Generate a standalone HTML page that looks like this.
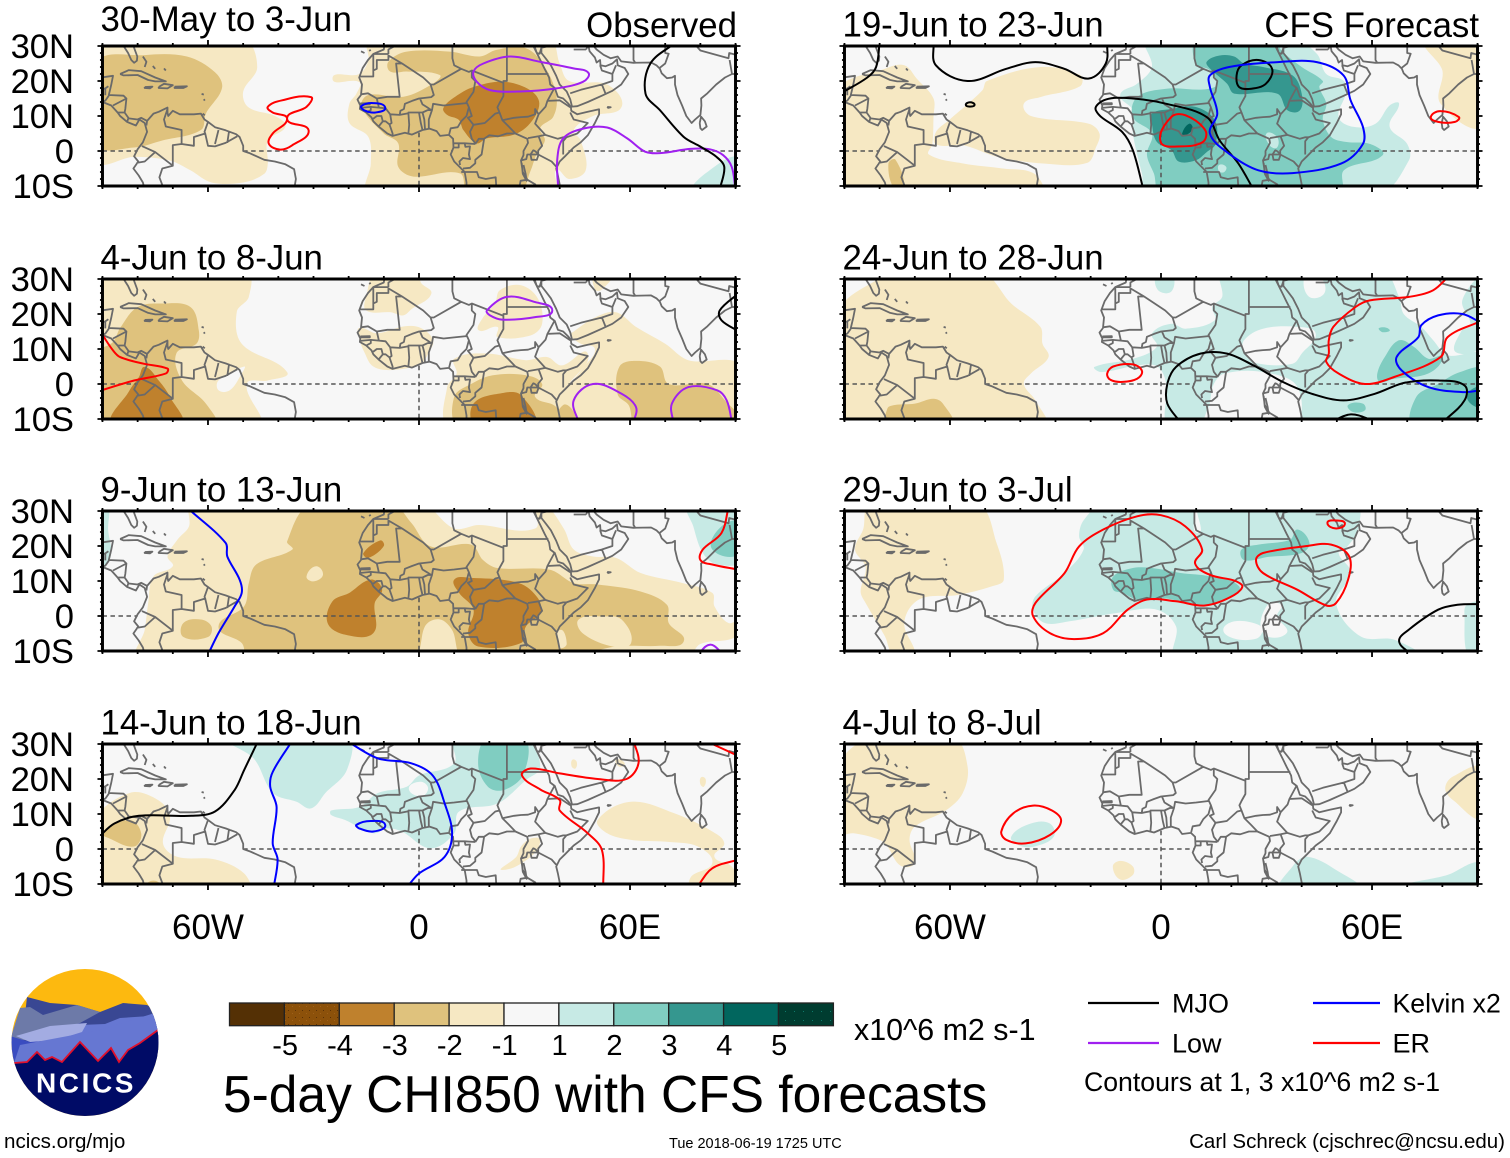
<!DOCTYPE html>
<html lang="en">
<head>
<meta charset="utf-8">
<title>5-day CHI850 with CFS forecasts</title>
<style>
html,body{margin:0;padding:0;background:#fff;}
svg{display:block;}
text{font-family:"Liberation Sans",Arial,sans-serif;fill:#000;}
</style>
</head>
<body>
<svg id="figure" xmlns="http://www.w3.org/2000/svg" width="1510" height="1158" viewBox="0 0 1510 1158">
  <defs>
    <clipPath id="logo-clip"><circle cx="85" cy="1042.5" r="73.5"/></clipPath>
    <pattern id="stipple-brown" width="7" height="7" patternUnits="userSpaceOnUse"><rect width="7" height="7" fill="#8c510a"/><rect x="1" y="2" width="1" height="1" fill="#5a3005"/><rect x="5" y="5" width="1" height="1" fill="#a06018"/></pattern>
    <pattern id="stipple-teal" width="9" height="9" patternUnits="userSpaceOnUse"><rect width="9" height="9" fill="#003c30"/><rect x="2" y="3" width="1" height="1" fill="#0f7a6a"/></pattern>
  </defs>
  <g id="panels"></g>

  <g id="logo">
    <g clip-path="url(#logo-clip)">
      <rect x="10" y="968" width="150" height="150" fill="#fdb90f"/>
      <polygon points="27,997 50,1003 77,1005 100,1012 123,1003 147,1005 165,1015 165,1060 20,1060" fill="#394793"/>
      <polygon points="20,1008 30,1007 43,1015 77,1005 100,1012 80,1023 30,1040 10,1040" fill="#6d7aa8"/>
      <polygon points="165,1015 165,1040 118,1062 78,1060 40,1075 10,1070 60,1040 80,1025 105,1024 120,1018" fill="#6677d2"/>
      <polygon points="16,1036 50,1026 87,1023 82,1032 50,1042 30,1042" fill="#a3ace2"/>
      <polygon points="10,1036 30,1042 56,1040 20,1060 10,1070" fill="#3a4cc0"/>
      <polygon points="5,1063 14,1063 27,1062 37,1052 45,1060 52,1057 62,1062 80,1042 98,1061 111,1048 119,1062 128,1050 140,1043 158,1030 170,1030 170,1125 5,1125" fill="#000b66"/>
      <polygon points="14,1063 27,1062 37,1052 45,1060 52,1057 62,1062 80,1042 98,1061 111,1048 119,1062 128,1050 140,1043 158,1030 158,1012 100,1030 20,1045" fill="#6677d2"/>
      <polyline points="14,1063 27,1062 37,1052 45,1060 52,1057 62,1062 80,1042 98,1061 111,1048 119,1062 128,1050 140,1043 158,1030" fill="none" stroke="#e0102c" stroke-width="1.8"/>
    </g>
    <text x="86" y="1092.5" text-anchor="middle" font-size="28" font-weight="700" letter-spacing="2.6" style="fill:#fff">NCICS</text>
  </g>

  <g id="colorbar"></g>
  <text x="854" y="1040" font-size="30.4">x10^6 m2 s-1</text>
  <text x="223" y="1112" font-size="51.5">5-day CHI850 with CFS forecasts</text>

  <g id="legend">
    <line x1="1088" x2="1159" y1="1003" y2="1003" stroke="#000" stroke-width="2.2"/>
    <text x="1172" y="1012.5" font-size="27">MJO</text>
    <line x1="1088" x2="1159" y1="1043" y2="1043" stroke="#a020f0" stroke-width="2.2"/>
    <text x="1172" y="1052.5" font-size="27">Low</text>
    <line x1="1313" x2="1380" y1="1003" y2="1003" stroke="#0000ff" stroke-width="2.2"/>
    <text x="1392.5" y="1012.5" font-size="26.7">Kelvin x2</text>
    <line x1="1313" x2="1380" y1="1043" y2="1043" stroke="#ff0000" stroke-width="2.2"/>
    <text x="1392.5" y="1052.5" font-size="27">ER</text>
    <text x="1084" y="1091" font-size="26.65">Contours at 1, 3 x10^6 m2 s-1</text>
  </g>

  <text x="4" y="1148" font-size="20.6">ncics.org/mjo</text>
  <text x="669" y="1148" font-size="14.5">Tue 2018-06-19 1725 UTC</text>
  <text x="1505" y="1148" font-size="20.5" text-anchor="end">Carl Schreck (cjschrec@ncsu.edu)</text>
</svg>

<script>
/* ---------- labels ---------- */
const panelTitles = ["30-May to 3-Jun","4-Jun to 8-Jun","9-Jun to 13-Jun","14-Jun to 18-Jun","19-Jun to 23-Jun","24-Jun to 28-Jun","29-Jun to 3-Jul","4-Jul to 8-Jul"];
const lonMajorTicks = [-60,0,60];
const lonTickLabels = ["60W","0","60E"];
const latMajorTicks = [30,20,10,0,-10];
const latTickLabels = ["30N","20N","10N","0","10S"];
const colorbarLabels = ["-5","-4","-3","-2","-1","1","2","3","4","5"];

/* ---------- geography (lon, lat) ---------- */
const coastlines = [
 [[-92,29.5],[-89,30],[-84,30],[-82.7,28],[-81.8,26],[-81,25.2],[-80.2,25.8],[-80.1,27],[-81,29.5],[-81.4,31]],
 [[-92,21],[-90.3,21],[-87,21.5],[-87.5,19],[-88.2,16],[-84,15.8],[-83.2,15],[-83.5,12],[-83.7,11],[-82.5,9.3],[-80,9],[-79,9.5],[-77.3,8.6],[-75.5,10.7],[-74,11.2],[-71.5,12.4],[-71.5,11],[-71.3,10],[-70,11.5],[-68,10.5],[-64,10.5],[-62,10.7],[-61,9],[-60,8.3],[-58,6.8],[-55,5.9],[-52,4.8],[-51,4],[-50,1.5],[-50,0],[-48,-0.7],[-44,-2.5],[-41,-3],[-38,-3.8],[-35.5,-5.2],[-35,-8],[-35.5,-11]],
 [[-92,14.5],[-90,14],[-87.5,13],[-85.7,11],[-85,10],[-83,8.3],[-80.5,7.3],[-79.5,9],[-78,8],[-77.3,5.5],[-78.5,2.5],[-80,0.5],[-81,-1.5],[-79.8,-3],[-81.2,-5],[-79.7,-7],[-78.5,-9],[-78,-11]],
 [[-85,22],[-82.5,23.1],[-79,22.8],[-75,21],[-72,19.9],[-75,19.9],[-77,20.3],[-80,21.7],[-84,21.6],[-85,22]],
 [[-74,18.3],[-72.5,19.2],[-70,18.8],[-71.5,17.9],[-74,18],[-74,18.3]],
 [[-78,18.3],[-75.8,18.4],[-76.5,17.9],[-78,18],[-78,18.3]],
 [[-69.5,18.4],[-66,18.5],[-67,18],[-69.5,18],[-69.5,18.4]],
 [[-78.5,27],[-77.5,25.5],[-78,24]],[[-75.7,24.3],[-75,23.5]],[[-72.5,23.6],[-72,23]],
 [[-61.8,16.3],[-61.2,16.1]],[[-61.2,14.8],[-60.9,14.4]],[[-61.5,10.7],[-60.9,10.2]],
 [[-16.5,28.5],[-15.5,28]],[[-14.2,28.6],[-13.7,28.9]],
 [[-9.7,31],[-10,29],[-13,27.7],[-14.5,26],[-16,23.7],[-17,21],[-16.2,19],[-16.5,16],[-17.5,14.7],[-16.7,13],[-16.8,12],[-15,11],[-13.5,9.6],[-13,8.5],[-11.5,7],[-9,5],[-7.5,4.3],[-4,5.2],[-2,4.7],[1,6],[3,6.4],[5,5.7],[6,4.3],[8.5,4.6],[9.7,3.5],[9.8,1],[9,-1],[10,-3],[12,-5],[13,-6],[13.5,-9],[13.5,-11]],
 [[40.3,-11],[39.5,-7],[39,-5],[40,-3],[41.5,-1.5],[44,1],[46,2.5],[48,4.5],[50,8],[51.2,10.5],[51.2,11.9],[48,11.2],[45,10.5],[43.3,11.5],[43.2,12.5],[42.5,13.5],[41,15],[39.5,15.5],[38.6,18],[37.3,19],[37,21],[35.7,23.5],[34.5,26],[33.5,28],[32.5,31]],
 [[32.5,30],[33.5,28],[34.3,27.8],[34.8,29.5],[34.8,28],[36,26.5],[37.5,24.5],[39,21.5],[40,19],[42,17],[43,14.8],[43.5,12.7],[45,12.8],[48,14],[52,15.8],[55,17.2],[57.5,19],[59.5,22],[58.5,23.7],[56.5,24.5],[56.3,26.2],[55,25],[53,24.2],[51.6,24.5],[51.5,26],[50.5,25.3],[50,26.7],[48.5,28.5],[48,31]],
 [[48.8,31],[50.5,29],[52.5,27.5],[54.5,26.5],[56.5,27],[57.5,25.6],[61,25.2],[66,25.3],[67.5,24.5],[68.5,23.5],[69,22.2],[70.5,20.8],[72,21],[72.8,21.5],[72.8,19],[73.5,16],[74.8,13],[76,10],[77.5,8],[78.5,9],[80,10.3],[80.3,13],[80.2,15],[82,16.5],[84.5,19],[87,21],[89,22],[92,22]],
 [[79.8,8],[80.2,9.8],[81.3,8.5],[81.8,7],[80.5,6],[80,6.5],[79.8,8]],
 [[53.5,12.6],[54.5,12.5],[53.8,12.3],[53.5,12.6]],
 [[33,0],[34,-1],[33.5,-2.5],[32,-2.5],[31.7,-1],[32.5,0.2],[33,0]],
 [[29.2,-3.5],[29.5,-6.5],[30.6,-8.5],[30.3,-6.5],[29.7,-4]]
];
const borders = [
 [[-71.5,12],[-72.5,9],[-72,7],[-67.5,6],[-67.5,2],[-70,1.7],[-70,-4.2],[-73,-5],[-73.8,-7.5],[-72.5,-11]],
 [[-67.5,2],[-64,1.5],[-64,4],[-60.8,5],[-61,5.5],[-60,8.3]],
 [[-60.8,5],[-60,1.5],[-58,1.3],[-55,2.3],[-51.7,4.2]],
 [[-57,6],[-58,2]],[[-54,5.8],[-54.5,2.3]],
 [[-70,-4.2],[-75,-0.3],[-78.8,1.4]],[[-75,-0.3],[-78,-3],[-80.3,-3.4]],
 [[-77.3,8.6],[-77.5,7.3]],[[-83.2,15],[-87,13]],[[-83.7,11],[-85.7,11]],[[-82.6,9.5],[-83,8.3]],
 [[-88.2,15.8],[-89.2,14.4],[-90,14]],[[-89.2,17.9],[-88.3,18.5]],[[-89.2,17.9],[-89.2,15.9]],[[-92,17.8],[-89.2,17.8]],
 [[-8.7,27.7],[-8.7,29],[-5,31]],[[-13,27.7],[-8.7,27.7]],[[-13,27.7],[-13,21.3],[-17,21.3]],
 [[-13,23],[-12,23.5],[-12,26],[-8.7,26],[-8.7,27.3],[-4.8,25],[-6.5,25],[-5.5,15.5],[-9,15.5],[-12,15],[-14.5,16.5],[-16.5,16.2]],
 [[-4.8,25],[1.2,21],[3.3,19],[4.2,19],[12,23.5],[14.2,22.6],[15,23],[24,19.5],[24,20],[25,20],[25,22],[25,31]],
 [[3.3,19],[4.2,16],[3.5,15.4],[0,15],[-2,14.3],[-4,13.5],[-4.3,12],[-5.3,11.5],[-5.5,10.3],[-8.2,10.5]],
 [[9.5,31],[9.5,26.5],[10,24.5],[12,23.5]],
 [[25,22],[36.8,22]],
 [[15,23],[15,21],[16,20],[15.5,16.9],[13.5,14],[14.2,12.5],[15,10],[13.9,9.5],[15.5,7.5],[18.7,8],[21.7,10.7],[22.9,11],[22.3,12.5],[22.9,13.7],[24,15.7],[24,19.5]],
 [[-16.7,13.6],[-14,13.7],[-14,13.3],[-16.7,13.3]],
 [[-16.8,12.3],[-13.7,12.6],[-13.7,11.7],[-15,11]],
 [[-13.7,12.6],[-11.4,12.4],[-12,15]],
 [[-11.4,12.4],[-9.5,12.2],[-8.2,10.5],[-7.8,8],[-8.4,7.6],[-9.5,8.5],[-10.3,8.5],[-11.5,7]],
 [[-13.3,9],[-12,10],[-10.7,10],[-10.3,8.5]],
 [[-8.4,7.6],[-7.5,5],[-7.5,4.3]],
 [[-3,10.8],[-2.8,7.5],[-3,5]],
 [[-5.5,10.3],[-3,10.8],[-3,11],[0,11],[1,11],[2.5,11.7],[3.5,11.7],[2.3,12.5],[1,13.3],[0.3,14.9]],
 [[0,11],[0.5,8],[1,6]],[[1,11],[1.5,9],[1.7,6.2]],[[2.8,6.3],[2.8,9],[3.7,11.7],[4,13.5],[7,13],[10,13.3],[13.5,13.7]],
 [[8.6,4.8],[9,6.5],[11,6.8],[12,8.5],[13.5,10],[14.2,12.5]],
 [[15.5,7.5],[14.5,5.5],[15,3.5],[16,2.2]],[[9.8,2.2],[11.3,2.2],[13,2.2],[16,2]],
 [[9.7,1],[11.3,1],[11.3,2.2]],[[13,2.2],[13.2,1.2],[14.5,1.3],[14.2,-1],[14.5,-2.3],[12.5,-2],[11.5,-3],[11.7,-4]],
 [[16,2],[17,3.5],[18.5,3.5],[17.8,-1],[16,-2.5],[16,-3.5],[14.5,-4.8],[12.5,-5]],
 [[18.5,3.5],[20,4.5],[22.5,4.2],[25,5],[27.4,5]],
 [[22.9,11],[23.7,8.8],[25.5,7],[27.4,5],[30.8,3.5],[31,2.3],[29.7,0],[29.7,-1.2],[29,-2.7],[29.3,-4.5],[29.5,-6],[30.8,-8.2],[28.9,-8.5],[28.7,-9.5],[28.4,-11]],
 [[12,-6],[16.5,-6],[17,-7.5],[19,-8],[21.8,-7.5],[22,-11]],
 [[29,-2.7],[30.5,-2.3],[30.8,-1],[33.9,-1],[37.7,-3],[39.2,-4.7]],
 [[31,3.7],[34,4.2],[35,1.5],[33.9,0.1],[33.9,-1]],
 [[34,4.2],[35.9,4.6],[33,7.8],[34,10.5],[36,12.7],[36.5,14.3],[38.5,18]],
 [[35.9,4.6],[39.5,3.5],[41,3.9],[41.9,3.9],[41,2.8],[41,-1]],
 [[41.9,3.9],[45,5],[48,8],[44,9],[43,11]],
 [[36.5,14.3],[40,14.5],[43,12.5]],
 [[23.7,8.8],[27,9.5],[29,9.7],[31,9.8],[33,10.5],[33,12],[34,10.5]],
 [[30.8,-8.2],[33,-9.5],[34,-11]],
 [[43,16.5],[46,17.5],[52,19],[55,20],[55,22],[52,23],[51.5,24.5]],[[52,19],[53,16.5]],[[55,22],[56,24.5]],
 [[34.8,29.5],[37,30],[38,31]],[[47.5,29],[48,30]],[[44,29],[47.5,29]],
 [[61,31],[61,26],[61.5,25.2]],[[70,31],[70,28],[71,27.8],[70,25],[68.5,23.8]],
 [[78,31],[80,28.7],[88,26.5],[88.2,28],[92,27]],[[88.3,26],[89,22]],[[92,25],[89.7,26]]
];

/* ---------- panel 1: 30-May to 3-Jun ---------- */
const shading1 = [
 [-1,[[-92,32],[-50,32],[-46,24],[-50,17],[-48.5,12.5],[-41,10],[-38,7],[-43,3],[-43,-3.6],[-44,-6.5],[-50,-9],[-59,-9],[-65,-5.5],[-71,-2.7],[-81,-1.7],[-92,-2.7]]],
 [-2,[[-92,25],[-78,27.4],[-66,27],[-58,22.5],[-56,18],[-60.6,10.7],[-62,6],[-73,3],[-81,1],[-92,2]]],
 [-1,[[-24.6,20.7],[-17,22],[-14.4,26],[-14.4,32],[37,32],[40,25],[42.7,20],[53.5,19],[57.6,12.6],[49.5,10],[44,6],[46,3],[47.4,-5.5],[42.7,-8],[39,-5.5],[39,-12],[-14.4,-12],[-13.7,-3.6],[-14.4,4],[-19.8,8],[-19.8,13.5],[-17.8,16.4],[-17,19.7]]],
 [-2,[[-8.2,22.7],[-8.7,25.5],[-3.5,28.4],[8.8,28.4],[17.3,27],[22,28.9],[30.6,29.3],[36.3,23.1],[39.1,15.5],[38.2,9.8],[34.4,6.5],[35.8,3.1],[33.5,-0.7],[31.6,-6],[28.5,-12],[14,-12],[11.6,-6.4],[-1.6,-7.3],[-5.9,-4.5],[-5.9,2.2],[-10,5],[-16.3,12.7],[-14.4,16],[-4.4,15.5],[4,19.3],[5.9,21.7],[-3.5,22.7]]],
 [-3,[[6.9,12.2],[10.3,15.5],[15.5,18.3],[24,19.8],[31.6,17.4],[34.2,13.6],[31.6,7.9],[26.8,4.6],[19.2,3.6],[16.4,2.2],[12.6,6],[11.3,8.9],[8,10.3]]],
 [1,[[78,-12],[82,-6],[92,-2],[92,-12]]]
];
const contours1 = [
 ["ER",true,[[-43,12.6],[-38.9,14.5],[-30.7,15.4],[-32,12.6],[-37.5,9.2],[-31.4,5.9],[-36.1,1.6],[-39.5,0.4],[-42.7,2.1],[-41.6,5],[-37.5,9.2],[-41.6,11]]],
 ["Kelvin",true,[[-16.4,12.8],[-13,13.7],[-9.6,12.4],[-12.4,11],[-15.5,11.6]]],
 ["Low",true,[[15.5,22.7],[18.3,25],[25.9,27],[34.4,25.5],[43.9,23.6],[48.2,22.3],[46.7,19.8],[39.1,17.9],[28.7,17],[20.2,17.4],[16.4,19.8]]],
 ["Low",false,[[39.6,-11],[39.3,-2.6],[41,3.6],[46.7,6.4],[53.5,6.7],[59.2,3.6],[64.3,-0.2],[68.5,-0.6],[77.1,0.6],[82.7,0.5],[86.5,-1.2],[88.9,-4.5],[90,-11]]],
 ["MJO",false,[[73,31],[65.8,25],[64.4,16.4],[68.5,11.7],[75.2,4.1],[79.9,1.3],[84.6,-1.7],[86.8,-4.6],[85.5,-11]]]
];

/* ---------- panel 2: 4-Jun to 8-Jun ---------- */
const shading2 = [
 [-1,[[-92,32],[-49,32],[-48.4,24.9],[-51.8,20.6],[-50.4,11.5],[-37.5,3.4],[-43,1],[-49,0],[-45.7,-12],[-92,-12]]],
 [0,[[-57,1],[-49.7,5],[-50.4,3],[-53.8,-1.8],[-57,-1.8]]],
 [-2,[[-92,8.5],[-87,12],[-85,16],[-80,22],[-73,23],[-65,22],[-62.6,15.3],[-63.3,11.5],[-69,8.7],[-67.4,1],[-60.6,-5.6],[-58,-12],[-92,-12]]],
 [-3,[[-78,4.9],[-74,1],[-70.8,-3.7],[-67.7,-12],[-87,-12],[-82.3,-1.8],[-79.6,2]]],
 [-1,[[-12,32],[-15,25],[-15,21],[-8,20.5],[-4.5,19.6],[-2,21.5],[3.5,25.8],[0.5,29],[0,32]]],
 [-1,[[-17,16],[-12,14.5],[-4,16.5],[0.5,16],[4,12.5],[2.6,8.7],[0.5,5.8],[-7.6,4],[-13,5],[-15.5,9],[-17,13]]],
 [-1,[[23,26.8],[29,28.2],[33.8,24.4],[35,17.2],[31.8,13.9],[22.3,13.4],[22.3,16.3],[17,15.3],[18,18.7],[21.6,23]]],
 [-1,[[10,7.2],[19.6,8.7],[30.4,6.8],[36.5,7.7],[40.6,5.3],[48,8.7],[42.7,0],[40,-5.6],[39.5,-12],[8.7,-12],[8,-0.9],[10.7,3]]],
 [-1,[[44,15],[50,19],[56,20.5],[61.7,16.3],[70,11.5],[76.6,6.8],[92,5],[92,-12],[40,-12],[40,-5],[43,0],[47,5],[50,10],[46,11.5],[43,14]]],
 [-1,[[50,32],[55,32],[52,27],[50,27]]],
 [-2,[[57,5],[61.7,6.6],[68.5,5],[71,0],[82,0],[87,-4.7],[92,-12],[62,-12],[59.6,-6],[56.5,-3]]],
 [-2,[[41,-6],[44,-8],[44,-12],[39,-12]]],
 [-2,[[10,-3.7],[14.8,0],[21,2.5],[30.4,2.5],[35,0],[33,-3.7],[39,-6.6],[40,-12],[11.4,-12]]],
 [-3,[[15.5,-5.6],[23.6,-2.6],[29,-3.2],[32.5,-12],[16.2,-12]]]
];
const contours2 = [
 ["Low",true,[[19.3,21],[25,24.9],[33,23.4],[37.9,21],[33,19.1],[23.6,18.4],[20.2,19.6]]],
 ["Low",false,[[45.4,-11],[44,-4.7],[49.5,0],[57.6,-2.8],[61.7,-6.6],[61,-11]]],
 ["Low",false,[[72.3,-11],[71.9,-5.6],[76.6,-0.9],[84.8,-1.8],[87.5,-4.7],[89,-11]]],
 ["ER",false,[[-90,14],[-87,9.6],[-85,7.7],[-78.3,5.8],[-71.5,4.4],[-72,3],[-81,1],[-91,-2]]],
 ["MJO",false,[[91,26],[85.5,21],[86,18.2],[91,15]]]
];

/* ---------- panel 3: 9-Jun to 13-Jun ---------- */
const shading3 = [
 [-1,[[-64.7,32],[0.5,32],[10,25],[17,26],[33,25],[33,32],[36,32],[41.3,24.7],[44,19],[49.5,17],[56,16.6],[63,12.3],[75,9.4],[83.4,6.6],[84,2.8],[88,-2],[92,-1],[90,-6],[80,-8],[76,-12],[-80,-12],[-78,-4],[-77,3.7],[-75.5,11.3],[-70,14.2],[-71.5,17],[-68.7,21.8],[-65.4,25.6]]],
 [-2,[[-30.7,32],[-7.6,32],[-2.2,26.6],[3.3,19.9],[14.8,20.4],[18.2,16],[22.3,13.7],[37.2,13.2],[44,9.4],[50.8,9],[63,7],[70.5,3.2],[71,-2],[75.3,-7.2],[68.5,-8.5],[56,-8.7],[41,-12],[12.8,-12],[9.4,-4],[6,-1],[2,-2.5],[-2,-12],[-48.4,-12],[-50.4,-7.7],[-57,-3],[-49.7,2.8],[-48.4,9.4],[-46.3,14.7],[-36,19],[-37.5,21.3]]],
 [-1,[[45.4,-1],[52.2,-0.1],[57.6,-1],[60.3,-7.7],[55,-8.7],[46.5,-4.9]]],
 [-1,[[40,-4],[42,-8],[40,-9]]],
 [-1,[[-32,11.3],[-29.3,14.2],[-27.3,11.8],[-30,9.9]]],
 [-2,[[-67,-2],[-62,-1],[-59,-3],[-60,-6],[-67,-6]]],
 [-3,[[-13.7,10.4],[-20,6.5],[-24.6,4.2],[-26,-2],[-21.2,-5.3],[-13,-4.9],[-12.6,3.7],[-10.5,7.6]]],
 [-3,[[-15.8,18],[-11,21.6],[-10,20],[-14.4,16.6]]],
 [-3,[[10,10.4],[14.8,10.9],[28.4,9.4],[33.8,5.1],[34.5,0.9],[30.4,-3],[29,-7.7],[16.8,-8.7],[14,-4.9],[15.5,1.8],[11.4,6.6]]],
 [1,[[76.6,32],[78,25.6],[80.7,18],[84.8,14.7],[92,16],[92,32]]],
 [2,[[86,25.6],[83.4,19],[92,18],[92,26.6]]],
 [1,[[-92,32],[-88.5,32],[-88.4,24.7],[-87.7,17],[-92,12]]]
];
const contours3 = [
 ["Kelvin",false,[[-65.4,30.5],[-55,20.9],[-54.5,17],[-51,10.4],[-50.4,6.6],[-52.4,2.8],[-57,-4.9],[-60,-11]]],
 ["ER",false,[[88,31],[86,23.7],[80.7,19],[80,16],[83.4,14.7],[91,13.2]]],
 ["Low",false,[[79.3,-11],[82.7,-8.2],[86.2,-10.5]]]
];

/* ---------- panel 4: 14-Jun to 18-Jun ---------- */
const shading4 = [
 [1,[[-55,32],[-47,25.9],[-41.5,16],[-34.8,13.5],[-30.7,11.6],[-26.6,16],[-20.5,22.6],[-20.5,32]]],
 [1,[[-25,11],[-17,12],[-11.7,16],[-3.5,17.8],[0,21],[10,24.5],[10,32],[29.8,32],[34.5,23.5],[30.4,19.7],[22.3,13],[11.4,10.7],[10,4.5],[3.3,0.2],[-4.9,5],[-9,5.9],[-13,4.5],[-21,8.3],[-25,9.7]]],
 [0,[[-2.9,17.3],[0.5,19.2],[2.6,17.3],[0.5,15]]],
 [2,[[19.5,32],[16.8,24.5],[19.6,17.8],[24.3,16.9],[29.8,21.6],[29.8,32]]],
 [-1,[[-92,8],[-82.3,16],[-74.2,14],[-70.8,9.2],[-72.8,1.6],[-68.8,-2.2],[-57.9,-3],[-49.7,-7],[-48.4,-12],[-92,-12]]],
 [-2,[[-90,4.5],[-82.3,8.3],[-79,4.5],[-81,0.7],[-88,3]]],
 [-2,[[-77,-9.5],[-74,-9.5],[-74,-12],[-77,-12]]],
 [-1,[[50.8,8.3],[60.3,13.5],[72.6,10.2],[83.4,5],[86.8,1.6],[84,-2.2],[88.9,-5],[92,-12],[77.5,-12],[77.3,-8],[83.4,-4],[79.3,0.7],[71.2,2],[60.3,2.6],[53.5,4.5]]],
 [-1,[[31.8,3],[34.5,2.6],[31.8,-2.2],[23.6,-6],[27.7,-2.2],[29,0.7]]],
 [-1,[[43.6,25.5],[44.8,25],[44.5,23],[43.4,23.6]]],
 [-1,[[56,25.5],[58.5,24.5],[57,23.5]]],
 [-1,[[80.2,20.5],[81.5,20],[81,17.8],[80,18.5]]]
];
const contours4 = [
 ["MJO",false,[[-91,3.5],[-86.6,7.3],[-79.6,9.5],[-64.7,9.5],[-58,10.7],[-52.4,16.9],[-49.7,22.6],[-45.7,31]]],
 ["Kelvin",false,[[-36,31],[-41.6,22],[-42.3,17.8],[-40.5,12],[-41.6,1.6],[-40.2,-3],[-41.3,-11]]],
 ["Kelvin",false,[[-20,30.5],[-11.7,25.9],[-2.2,24.5],[3.9,21],[7.3,13],[9.4,4.5],[7.3,-2.2],[0,-7],[-3.5,-11]]],
 ["Kelvin",true,[[-17.8,6.9],[-13.7,8],[-9.6,6.9],[-13,5],[-17,5.9]]],
 ["ER",false,[[61,31],[62.4,24.5],[59,20],[50.8,20],[40,21.6],[31.8,23],[29.3,21],[34.5,17],[40,14],[40,11],[48,4.5],[52,-0.3],[52.4,-11]]],
 ["ER",false,[[79,-11],[83.4,-5.5],[91,-3]]],
 ["ER",false,[[83.4,30],[91,26.5]]]
];

/* ---------- panel 5: 19-Jun to 23-Jun ---------- */
const shading5 = [
 [-1,[[-92,17],[-78.5,23.5],[-73,24.5],[-69.5,20.7],[-64.7,15],[-64.7,9.7],[-65,2],[-66,-1],[-56,-3.6],[-45,-5],[-36,-6.5],[-34,-12],[-92,-12]]],
 [-1,[[-60.3,8.8],[-50.8,17.3],[-49.5,20],[-34.3,24],[-23,21.7],[-23,18.5],[-34.3,15.4],[-39,13.5],[-37,10],[-20.5,7.8],[-17.5,5],[-18.5,1],[-21,-3.4],[-33,-3.6],[-46.5,-1.7],[-56,1.6],[-64,1.9],[-64,5.4]]],
 [-2,[[-77.5,-3.6],[-75.5,-2.5],[-73,-10.5],[-76,-10.5]]],
 [-1,[[75.3,32],[80,23],[79.5,13.5],[92,7.5],[92,32]]],
 [1,[[-4,32],[-2.6,24],[-6.8,19.2],[-11.6,16],[-8,11.6],[-8,5],[-5.4,-6.5],[-4,-12],[62,-12],[70.5,-2.7],[70,2],[65,7],[67.7,13.5],[65,13],[61,7.8],[54.6,6.9],[50.5,9.7],[52.5,16.4],[52,20],[47,22],[44.3,27.8],[37.5,32]]],
 [2,[[10.5,32],[9.8,25],[14,23],[15.3,18.3],[1.5,17.8],[-6.8,15.4],[-8,9.7],[-2.6,5],[-4,-1],[-2,-6.5],[0,-12],[51,-12],[52,-5.5],[63,-1.2],[59.5,2],[52.5,2.6],[48.4,4],[46,9],[47,13.5],[45,18.3],[46,20],[40,24],[34,29],[33,32]]],
 [1,[[30,5],[33,4],[33,1],[31,1.5]]],
 [1,[[16.5,-4],[18.5,-4.5],[18,-6],[16.5,-5.8]]],
 [3,[[13,25.5],[16.7,27.3],[20.8,27],[23.6,25],[29,24],[37.4,21.6],[40,16.4],[39.5,11.6],[36,11.6],[33,16.4],[20.8,16.4],[18.8,19.2],[14,23.5]]],
 [3,[[-2.6,10.7],[2.9,12],[9.8,12.6],[15.3,8.8],[15.5,2],[13,-0.3],[9.8,-2.7],[5,-3],[3,0.2],[-1.2,2.6],[-2.6,7.8]]],
 [4,[[6,5],[8,7.8],[9,6.4],[7,4.5]]]
];
const contours5 = [
 ["MJO",false,[[-80,31],[-81,24],[-83.5,21],[-91,16.5]]],
 ["MJO",false,[[-64.7,31],[-64,24.5],[-55,20],[-44,23.5],[-35.7,25.4],[-27.5,23.5],[-20.5,20.7],[-15.7,25],[-15.3,31]]],
 ["MJO",true,[[-55.5,13.2],[-54.3,13.9],[-53,13.2],[-54.3,12.7]]],
 ["MJO",false,[[-5,-11],[-8,0.2],[-11,5.4],[-18.5,11.6],[-15.7,14.7],[-8,15],[1.5,13.5],[13,9.7],[16.7,3],[22,-3.6],[26.3,-11]]],
 ["MJO",true,[[21.5,21.6],[22.9,24.5],[27.7,26],[31.6,23.5],[29.8,19.2],[25.7,17.8],[22.2,18.3]]],
 ["Kelvin",true,[[13.9,18.3],[13.9,21.6],[19.4,24],[33.2,25.4],[44.3,25.4],[51.9,21.6],[53.9,14.5],[57.4,6.9],[57.4,2],[51.2,-3.6],[37.4,-6.3],[27.7,-5.5],[19.4,-0.8],[13.9,5],[16,10.7]]],
 ["ER",true,[[-0.1,2.6],[2.9,9.7],[7,10.2],[12.6,5.9],[11.9,2.6],[5.7,1.3]]],
 ["ER",true,[[76.7,9.7],[79.4,11.4],[84.7,9.7],[83.6,8.3],[78.8,8.3]]]
];

/* ---------- panel 6: 24-Jun to 28-Jun ---------- */
const shading6 = [
 [-1,[[-92,20],[-81,29.6],[-72,32],[-51,32],[-42.6,23],[-34.3,16.3],[-33.7,11.5],[-32,7.7],[-37,3],[-39,0],[-35.7,-4.7],[-33,-12],[-92,-12]]],
 [-2,[[-77.8,-7],[-75.7,-6],[-70,-5.6],[-64.7,-4.2],[-62,-5.6],[-59.5,-12],[-77.8,-12]]],
 [1,[[17.4,32],[17.4,24.9],[14.6,22],[15.3,18.2],[7,15.8],[2.9,17.2],[-2.6,14.4],[-1.2,10.6],[-8,7.2],[-18.9,4.9],[-17,3.4],[-6.8,5.3],[-1,5],[1.5,0],[3,-12],[92,-12],[92,8],[81.5,8.2],[77.4,12.5],[74,16.3],[69,20],[67.7,24.9],[63,32]]],
 [1,[[-1,32],[-1,27],[3,26.5],[3,32]]],
 [0,[[23.6,12.5],[29,15.8],[38.8,16.3],[44,14.4],[40,8.7],[37.4,5.8],[27,6],[23.6,9]]],
 [0,[[18,3],[29,3.4],[38.8,-0.9],[37.4,-12],[13,-12],[14,-5],[15,0]]],
 [0,[[41,31],[45,31],[46.5,26],[42,25]]],
 [0,[[81,24],[92,30],[92,32],[70,32],[70,26]]],
 [1,[[85.5,15.3],[88,17],[85.7,24],[92,30],[92,12],[84,9]]],
 [2,[[61.5,3],[63.6,7.7],[67.7,12.5],[71.9,10.6],[76,7.2],[80,7.7],[76,3],[66.3,1.5],[62.2,0.6]]],
 [2,[[71.9,-12],[72.6,-3.7],[78.8,0],[85,3.4],[92,3.9],[92,-12]]],
 [3,[[87,-3.7],[92,-0.9],[92,-6.6]]],
 [2,[[53.2,-6],[57.4,-5.6],[58,-7.5],[54.6,-8]]],
 [2,[[62,16],[65,15.5],[63,14.8]]]
];
const contours6 = [
 ["ER",false,[[82,31],[77.4,26.8],[70.5,24.9],[59.4,23.9],[55.3,22],[49,16.3],[47.7,12.5],[47.7,8.7],[47,6.3],[50.5,3],[58,0],[66.3,2],[79.5,7.7],[81.5,13.4],[91,18]]],
 ["Kelvin",false,[[91,17.5],[85.7,20],[78.8,19.6],[74,16.8],[73.2,13.4],[67,7.7],[68.4,3.9],[76,-0.9],[85.7,-2.3],[91,-1.8]]],
 ["ER",true,[[-15.3,3],[-13.6,5],[-8,5.6],[-5.4,3.7],[-6.8,1.5],[-10.9,0.6],[-14.4,1.2]]],
 ["MJO",false,[[5.6,-11],[1.8,-5.6],[1.8,0],[4.3,4.9],[11.2,8.7],[18.8,8.7],[26.3,5.3],[34.6,0.6],[42.9,-2.8],[51.9,-4.7],[60.8,-2.8],[69.1,0.3],[78.8,1],[86.3,-0.4],[86.3,-4.7],[80,-11]]],
 ["MJO",false,[[48,-11],[54,-8.7],[60.5,-10.5]]]
];

/* ---------- panel 7: 29-Jun to 3-Jul ---------- */
const shading7 = [
 [-1,[[-84.7,24.7],[-82.6,32],[-52.3,32],[-46.8,21],[-44.7,10.4],[-48,8.5],[-57.8,6],[-68.8,4.7],[-73,-2],[-70,-12],[-75.7,-12],[-78.5,-5.8],[-84,3.7],[-85.4,7],[-84,14],[-87,19]]],
 [1,[[-23.3,22.8],[-21.9,27.5],[-16.4,32],[8.4,32],[10.5,23.7],[11,32],[55.3,32],[56,24.7],[53,19.9],[50.5,18],[54,12.3],[49.8,3.7],[56.7,-5.8],[66.4,-6.8],[74,-12],[4.3,-12],[4.3,-3],[-1.2,1.8],[-12.3,0.9],[-26,-1.5],[-33,-2],[-36.4,1.8],[-35.7,5.6],[-27.4,12.3],[-22,19]]],
 [0,[[17.7,-4],[21,-1.5],[27.7,-2.5],[28.8,-4.5],[27,-6.5],[21,-6.5]]],
 [0,[[30,2.8],[34.2,3.2],[33,0],[35.7,-4.9],[29,-4.9]]],
 [1,[[86.3,0],[87,3.2],[92,3.5],[92,-12],[87.5,-12]]],
 [2,[[-13.6,11.3],[-8,13.7],[-2.6,13.7],[5.6,12.3],[14,11.3],[22.2,8.5],[19.4,5],[12.5,2.8],[7,3.7],[1.5,5],[-6.8,4.7],[-10.9,6.6],[-13.6,7.5]]],
 [2,[[22.9,19],[27.7,20.4],[36.7,21.8],[38.8,24.7],[42.2,20.9],[40,18],[30.5,16.9],[23.6,16]]]
];
const contours7 = [
 ["ER",true,[[-35.7,3.7],[-27.4,12.3],[-23.3,19.9],[-16.4,24.7],[-6.8,28.5],[0,28.8],[6.9,25.6],[11.7,19],[9.7,15],[13.8,11.8],[22.9,9],[20.8,6],[12.5,3],[4.3,4.2],[-4,4.7],[-9.5,1.8],[-16.4,-4.9],[-24.7,-6.6],[-31.6,-4.9],[-36.4,0]]],
 ["ER",true,[[27,16],[29,18],[41.5,20],[48.4,20.4],[53.5,17],[53.2,10.4],[49.8,3.7],[47,3],[38.8,7.5],[29,12.3]]],
 ["ER",true,[[47.3,26.6],[49.8,27.3],[52.3,26.4],[49.8,25]]],
 ["MJO",false,[[71.2,-11],[67.7,-7.2],[70.5,-3.9],[78.8,1.8],[84.3,3.2],[91,3.4]]]
];

/* ---------- panel 8: 4-Jul to 8-Jul ---------- */
const shading8 = [
 [-1,[[-92,23],[-84,31],[-59.2,32],[-55,23.5],[-56.4,15.9],[-61.2,11],[-70,6.4],[-71.5,2.6],[-70,-4],[-74,-4.8],[-77.8,0.7],[-80,2.6],[-87.4,4.5],[-92,4.5]]],
 [-1,[[92,23],[83,20.7],[80.8,17.3],[83,14],[92,9]]],
 [-1,[[-13.7,-5],[-11.6,-3.4],[-8,-5],[-8,-7.4],[-11.6,-8.7]]],
 [1,[[-42.6,3.5],[-37,7.3],[-31.6,7.3],[-30.5,3.5],[-36,0.7],[-40,0.9]]],
 [1,[[34,-12],[37.4,-5],[41.5,-2.2],[49.8,-6],[56.5,-12]]],
 [1,[[68,-12],[81.5,-7.4],[92,-4],[92,-12]]]
];
const contours8 = [
 ["ER",true,[[-45.4,5],[-42,10.2],[-36.4,12.4],[-31,11],[-28.4,8],[-31.6,4],[-38.5,1.6],[-44,2.6]]]
];

/* ---------- colour scale ---------- */
const levelIds = [-3,-2,-1,0,1,2,3,4];
const levelColors = ["#bf812d","#dfc27d","#f6e8c3","#f7f7f7","#c7eae5","#80cdc1","#35978f","#01665e"];
const colorbarFills = ["#543005","url(#stipple-brown)","#bf812d","#dfc27d","#f6e8c3","#f7f7f7","#c7eae5","#80cdc1","#35978f","#01665e","url(#stipple-teal)"];
const contourKinds = ["MJO","Kelvin","Low","ER"];
const contourColors = ["#000000","#0000ff","#a020f0","#ff0000"];

const allShading = [shading1,shading2,shading3,shading4,shading5,shading6,shading7,shading8];
const allContours = [contours1,contours2,contours3,contours4,contours5,contours6,contours7,contours8];

/* ---------- layout & axis functions ---------- */
const NS = "http://www.w3.org/2000/svg";
const colZeroX = [419, 1161];
const rowEquatorY = [151, 384, 616, 849];
const lonScale = 3.517, latScale = 3.5;
function xOf(col, lon){ return colZeroX[col] + lon * lonScale; }
function yOf(row, lat){ return rowEquatorY[row] - lat * latScale; }
function make(tag, parent, attrs){
  const el = document.createElementNS(NS, tag);
  for (const k in attrs) el.setAttribute(k, attrs[k]);
  parent.appendChild(el);
  return el;
}
function project(col, row, pts){ return pts.map(p => [xOf(col,p[0]), yOf(row,p[1])]); }
function straightPath(pts){ return "M" + pts.map(p => p[0].toFixed(1)+" "+p[1].toFixed(1)).join("L"); }
function unit(a, b){
  const dx = b[0]-a[0], dy = b[1]-a[1], len = Math.hypot(dx,dy) || 1;
  return [dx/len, dy/len];
}
function smoothPath(pts, closed){
  const n = pts.length;
  const at = i => closed ? pts[(i+n)%n] : pts[Math.max(0,Math.min(n-1,i))];
  let d = "M"+pts[0][0].toFixed(1)+" "+pts[0][1].toFixed(1);
  const last = closed ? n : n-1;
  for (let i=0;i<last;i++){
    const p0=at(i-1),p1=at(i),p2=at(i+1),p3=at(i+2);
    const seg = Math.hypot(p2[0]-p1[0],p2[1]-p1[1]) / 3;
    const t1 = unit(p0,p2), t2 = unit(p1,p3);
    const c1x=p1[0]+t1[0]*seg,c1y=p1[1]+t1[1]*seg;
    const c2x=p2[0]-t2[0]*seg,c2y=p2[1]-t2[1]*seg;
    d+="C"+c1x.toFixed(1)+" "+c1y.toFixed(1)+" "+c2x.toFixed(1)+" "+c2y.toFixed(1)+" "+p2[0].toFixed(1)+" "+p2[1].toFixed(1);
  }
  return closed ? d+"Z" : d;
}

const root = document.getElementById("panels");
const defs = document.querySelector("defs");

panelTitles.forEach(function(title, idx){
  const col = idx < 4 ? 0 : 1;
  const row = idx % 4;
  const left = xOf(col,-90), right = xOf(col,90), top = yOf(row,30), bottom = yOf(row,-10);

  const clip = make("clipPath", defs, {id:"clip-"+idx});
  make("rect", clip, {x:left, y:top, width:right-left, height:bottom-top});

  const g = make("g", root, {});
  
  

  const bg = make("rect", g, {x:left, y:top, width:right-left, height:bottom-top, fill:"#f7f7f7"});
  
  

  const plot = make("g", g, {"clip-path":"url(#clip-"+idx+")"});
  
  

  allShading[idx].forEach(function(region){
    const shade = make("path", plot, {d:smoothPath(project(col,row,region[1]),true), fill:levelColors[levelIds.indexOf(region[0])]});
    
    
  });

  [[-90,-80],[-50,9.5],[42.5,90]].forEach(function(span){
    const eq = make("line", plot, {x1:xOf(col,span[0]), x2:xOf(col,span[1]), y1:yOf(row,0), y2:yOf(row,0), stroke:"#555", "stroke-width":1.5, "stroke-dasharray":"4.5 3.5"});
    
    
  });
  const mer = make("line", plot, {x1:xOf(col,0), x2:xOf(col,0), y1:yOf(row,5.2), y2:yOf(row,-10), stroke:"#555", "stroke-width":1.5, "stroke-dasharray":"4.5 3.5"});
  
  

  const mapD = coastlines.concat(borders).map(l => straightPath(project(col,row,l))).join("");
  const map = make("path", plot, {d:mapD, fill:"none", stroke:"#6a6a6a", "stroke-width":1.8, "stroke-linejoin":"round"});
  
  

  allContours[idx].forEach(function(c){
    const line = make("path", plot, {d:smoothPath(project(col,row,c[2]),c[1]), fill:"none", stroke:contourColors[contourKinds.indexOf(c[0])], "stroke-width":2});
    
    
  });

  let tickD = "";
  for (let lon=-90; lon<=90; lon+=10){
    const major = lonMajorTicks.indexOf(lon) >= 0;
    const len = major ? 6 : 3;
    tickD += "M"+xOf(col,lon)+" "+top+"v"+(-len)+"M"+xOf(col,lon)+" "+bottom+"v"+len;
  }
  for (let lat=-10; lat<=30; lat+=2){
    const major = lat % 10 === 0;
    const len = major ? 5 : 2.5;
    tickD += "M"+left+" "+yOf(row,lat)+"h"+(-len)+"M"+right+" "+yOf(row,lat)+"h"+len;
  }
  const ticks = make("path", g, {d:tickD, stroke:"#000", "stroke-width":1.8, fill:"none"});
  
  

  const frame = make("rect", g, {x:left, y:top, width:right-left, height:bottom-top, fill:"none", stroke:"#000", "stroke-width":3});
  
  

  const titleY = idx === 0 ? top-15 : top-9.5;
  const titleEl = make("text", g, {x:left-2, y:titleY, "font-size":34.8});
  titleEl.textContent = title;
  
  

  if (col === 0){
    latMajorTicks.forEach(function(lat,i){
      const t = make("text", g, {x:74, y:yOf(row,lat)+12, "font-size":34.6, "text-anchor":"end"});
      t.textContent = latTickLabels[i];
      
      
    });
  }
  if (row === 3){
    lonMajorTicks.forEach(function(lon,i){
      const t = make("text", g, {x:xOf(col,lon), y:939, "font-size":35, "text-anchor":"middle"});
      t.textContent = lonTickLabels[i];
      
      
    });
  }
  if (idx === 0 || idx === 4){
    const tag = make("text", g, {x:right+1.5, y:37, "font-size":34.8, "text-anchor":"end"});
    tag.textContent = idx === 0 ? "Observed" : "CFS Forecast";
    
    
  }
});

/* ---------- colorbar ---------- */
const bar = document.getElementById("colorbar");
const barLeft = 229.5, barTop = 1003, barHeight = 22.7, boxWidth = 54.9;
colorbarFills.forEach(function(fill,i){
  const box = make("rect", bar, {x:barLeft+i*boxWidth, y:barTop, width:boxWidth, height:barHeight, fill:fill, stroke:"#222", "stroke-width":1.3});
  
  
});
colorbarLabels.forEach(function(label,i){
  const t = make("text", bar, {x:barLeft+(i+1)*boxWidth+0.7, y:1055, "font-size":29, "text-anchor":"middle"});
  t.textContent = label;
  
  
});
</script>
</body>
</html>
